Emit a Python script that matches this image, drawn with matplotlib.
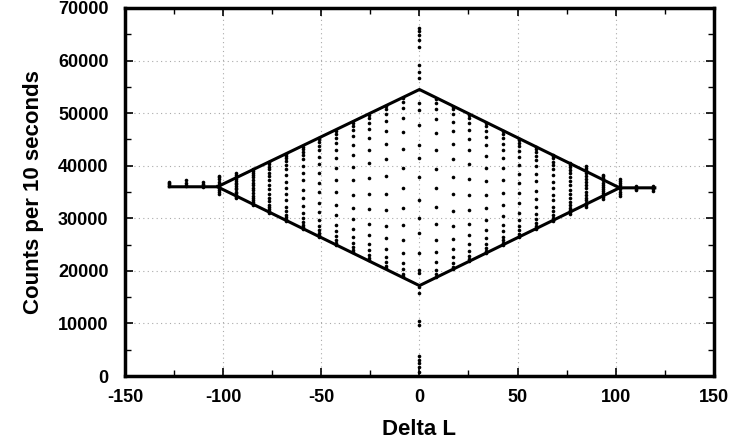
import matplotlib
matplotlib.use("Agg")
import matplotlib.pyplot as plt
from matplotlib.ticker import MultipleLocator

plt.rcParams['font.family'] = ['Liberation Sans', 'DejaVu Sans']
plt.rcParams['font.weight'] = 'bold'
plt.rcParams['axes.unicode_minus'] = False

# Delta L positions of the scan columns
delta_l = [-127.5, -119, -110.5, -102, -93.5, -85, -76.5, -68, -59.5, -51, -42.5, -34,
           -25.5, -17, -8.5, 0, 8.5, 17, 25.5, 34, 42.5, 51, 59.5, 68, 76.5, 85,
           93.5, 102, 110.5, 119]

# counts per 10 s for each column, in thousands
counts_k = [
    [36.2, 36.5, 36.8, 37.0],
    [36.1, 36.4, 36.8, 37.2],
    [36.0, 36.3, 36.6, 36.9],
    [34.6, 35.0, 35.4, 35.8, 36.2, 36.6, 37.0, 37.4, 37.8, 38.1],
    [33.8, 34.1, 34.4, 34.8, 35.1, 35.5, 35.8, 36.1, 36.5, 36.8, 37.1, 37.5, 37.8, 38.2, 38.6],
    [32.5, 32.8, 33.1, 33.5, 33.9, 34.3, 34.8, 35.3, 35.8, 36.3, 36.8, 37.3, 37.8, 38.2, 38.6, 39.0, 39.3],
    [31.0, 31.3, 31.7, 32.1, 32.6, 33.2, 33.9, 34.7, 35.5, 36.4, 37.2, 38.0, 38.7, 39.3, 39.8, 40.3, 40.7],
    [29.5, 29.8, 30.2, 30.7, 31.4, 32.2, 33.5, 34.6, 35.8, 37.0, 38.3, 39.4, 40.2, 40.9, 41.5, 41.9, 42.2],
    [28.0, 28.3, 28.7, 29.3, 30.0, 31.0, 32.3, 33.8, 35.3, 37.2, 38.6, 40.0, 41.2, 42.0, 42.7, 43.2, 43.6],
    [26.5, 26.8, 27.2, 27.8, 28.6, 29.7, 31.2, 33.0, 35.0, 36.8, 38.6, 40.3, 41.7, 42.9, 43.8, 44.5, 45.0, 45.2],
    [25.0, 25.4, 25.9, 26.6, 27.6, 28.8, 30.6, 32.6, 35.0, 37.3, 39.6, 41.5, 43.0, 44.3, 45.3, 46.1, 46.7],
    [23.5, 23.9, 24.5, 25.3, 26.4, 27.9, 29.8, 32.0, 34.5, 37.2, 39.7, 42.0, 44.0, 45.6, 46.8, 47.6, 48.2],
    [22.0, 22.4, 23.0, 23.9, 25.2, 26.9, 29.0, 31.7, 34.6, 37.6, 40.5, 43.0, 45.2, 46.9, 48.2, 49.1, 49.7],
    [20.5, 20.9, 21.6, 22.7, 24.2, 26.2, 28.6, 31.5, 34.7, 38.0, 41.3, 44.2, 46.7, 48.5, 49.9, 50.8, 51.3],
    [19.0, 19.5, 20.3, 21.5, 23.4, 25.8, 28.7, 32.0, 35.8, 39.6, 43.2, 46.4, 49.0, 50.9, 52.1, 52.8],
    [0.8, 1.7, 2.5, 3.0, 3.8, 9.8, 10.5, 15.8, 17.0, 19.6, 20.2, 23.4, 27.2, 30.0, 33.5, 37.9,
     41.5, 43.9, 47.7, 50.6, 51.9, 56.7, 57.8, 59.2, 62.6, 64.0, 64.9, 65.6, 66.2],
    [18.8, 19.4, 20.2, 21.6, 23.5, 25.9, 28.9, 32.2, 35.7, 39.4, 43.0, 46.2, 48.8, 50.7, 51.9, 52.6],
    [20.4, 20.8, 21.5, 22.6, 24.1, 26.1, 28.5, 31.4, 34.6, 37.9, 41.2, 44.1, 46.6, 48.4, 49.8, 50.7, 51.2],
    [21.9, 22.3, 22.9, 23.8, 25.1, 26.8, 28.9, 31.6, 34.5, 37.5, 40.4, 42.9, 45.1, 46.8, 48.1, 49.0, 49.6],
    [23.4, 23.8, 24.4, 25.2, 26.3, 27.8, 29.7, 31.9, 34.4, 37.1, 39.6, 41.9, 43.9, 45.5, 46.7, 47.5, 48.1],
    [24.9, 25.3, 25.8, 26.5, 27.5, 28.7, 30.5, 32.5, 34.9, 37.2, 39.5, 41.4, 42.9, 44.2, 45.2, 46.0, 46.6],
    [26.4, 26.7, 27.1, 27.7, 28.5, 29.6, 31.1, 32.9, 34.9, 36.7, 38.5, 40.2, 41.6, 42.8, 43.7, 44.4, 44.9, 45.1],
    [27.9, 28.2, 28.6, 29.2, 29.9, 30.9, 32.2, 33.7, 35.2, 37.1, 38.5, 39.9, 41.1, 41.9, 42.6, 43.1, 43.5],
    [29.4, 29.7, 30.1, 30.6, 31.3, 32.1, 33.4, 34.5, 35.7, 36.9, 38.2, 39.3, 40.1, 40.8, 41.4, 41.8, 42.1],
    [30.9, 31.2, 31.6, 32.0, 32.5, 33.1, 33.8, 34.6, 35.4, 36.3, 37.1, 37.9, 38.6, 39.2, 39.7, 40.2, 40.6],
    [32.1, 32.5, 32.9, 33.4, 33.9, 34.5, 35.1, 35.7, 36.3, 36.9, 37.5, 38.1, 38.6, 39.1, 39.5, 39.9],
    [33.6, 34.0, 34.4, 34.8, 35.2, 35.6, 36.0, 36.4, 36.8, 37.2, 37.6, 38.0, 38.3],
    [34.3, 34.7, 35.1, 35.5, 35.9, 36.3, 36.7, 37.1, 37.4],
    [35.3, 35.6, 35.9, 36.2],
    [35.2, 35.5, 35.8, 36.1],
]

# envelope of the scan (upper and lower edges), Delta L vs counts in thousands
env_upper_x = [-127.5, -103, 0, 102, 120]
env_upper_y = [36.0, 36.0, 54.5, 35.8, 35.8]
env_lower_x = [-103, 0, 102]
env_lower_y = [36.0, 17.2, 35.8]

fig = plt.figure(figsize=(7.32, 4.44), dpi=100)
ax = fig.add_axes([0.171, 0.153, 0.804, 0.829])

for x, ys in zip(delta_l, counts_k):
    ax.plot([x] * len(ys), [y * 1000 for y in ys], 'o', color='black',
            markersize=2.6, markeredgewidth=0, zorder=3)

ax.plot(env_upper_x, [y * 1000 for y in env_upper_y], color='black', lw=2.2, zorder=4)
ax.plot(env_lower_x, [y * 1000 for y in env_lower_y], color='black', lw=2.2, zorder=4)

ax.set_xlim(-150, 150)
ax.set_ylim(0, 70000)
ax.xaxis.set_major_locator(MultipleLocator(50))
ax.xaxis.set_minor_locator(MultipleLocator(25))
ax.yaxis.set_major_locator(MultipleLocator(10000))
ax.yaxis.set_minor_locator(MultipleLocator(5000))
ax.tick_params(which='both', direction='in', top=True, right=True, labelsize=13)
ax.tick_params(axis='x', which='major', pad=9)
ax.tick_params(axis='y', which='major', pad=12)
ax.tick_params(which='major', length=6, width=1.2)
ax.tick_params(which='minor', length=4, width=1.0)
ax.grid(True, which='major', linestyle=(0, (1, 3)), color='#aaaaaa', linewidth=0.8)

for s in ax.spines.values():
    s.set_linewidth(2.5)

ax.set_xlabel('Delta L', fontsize=16, fontweight='bold', labelpad=10)
ax.set_ylabel('Counts per 10 seconds', fontsize=16, fontweight='bold', labelpad=10)

fig.savefig('out.png', dpi=100)
